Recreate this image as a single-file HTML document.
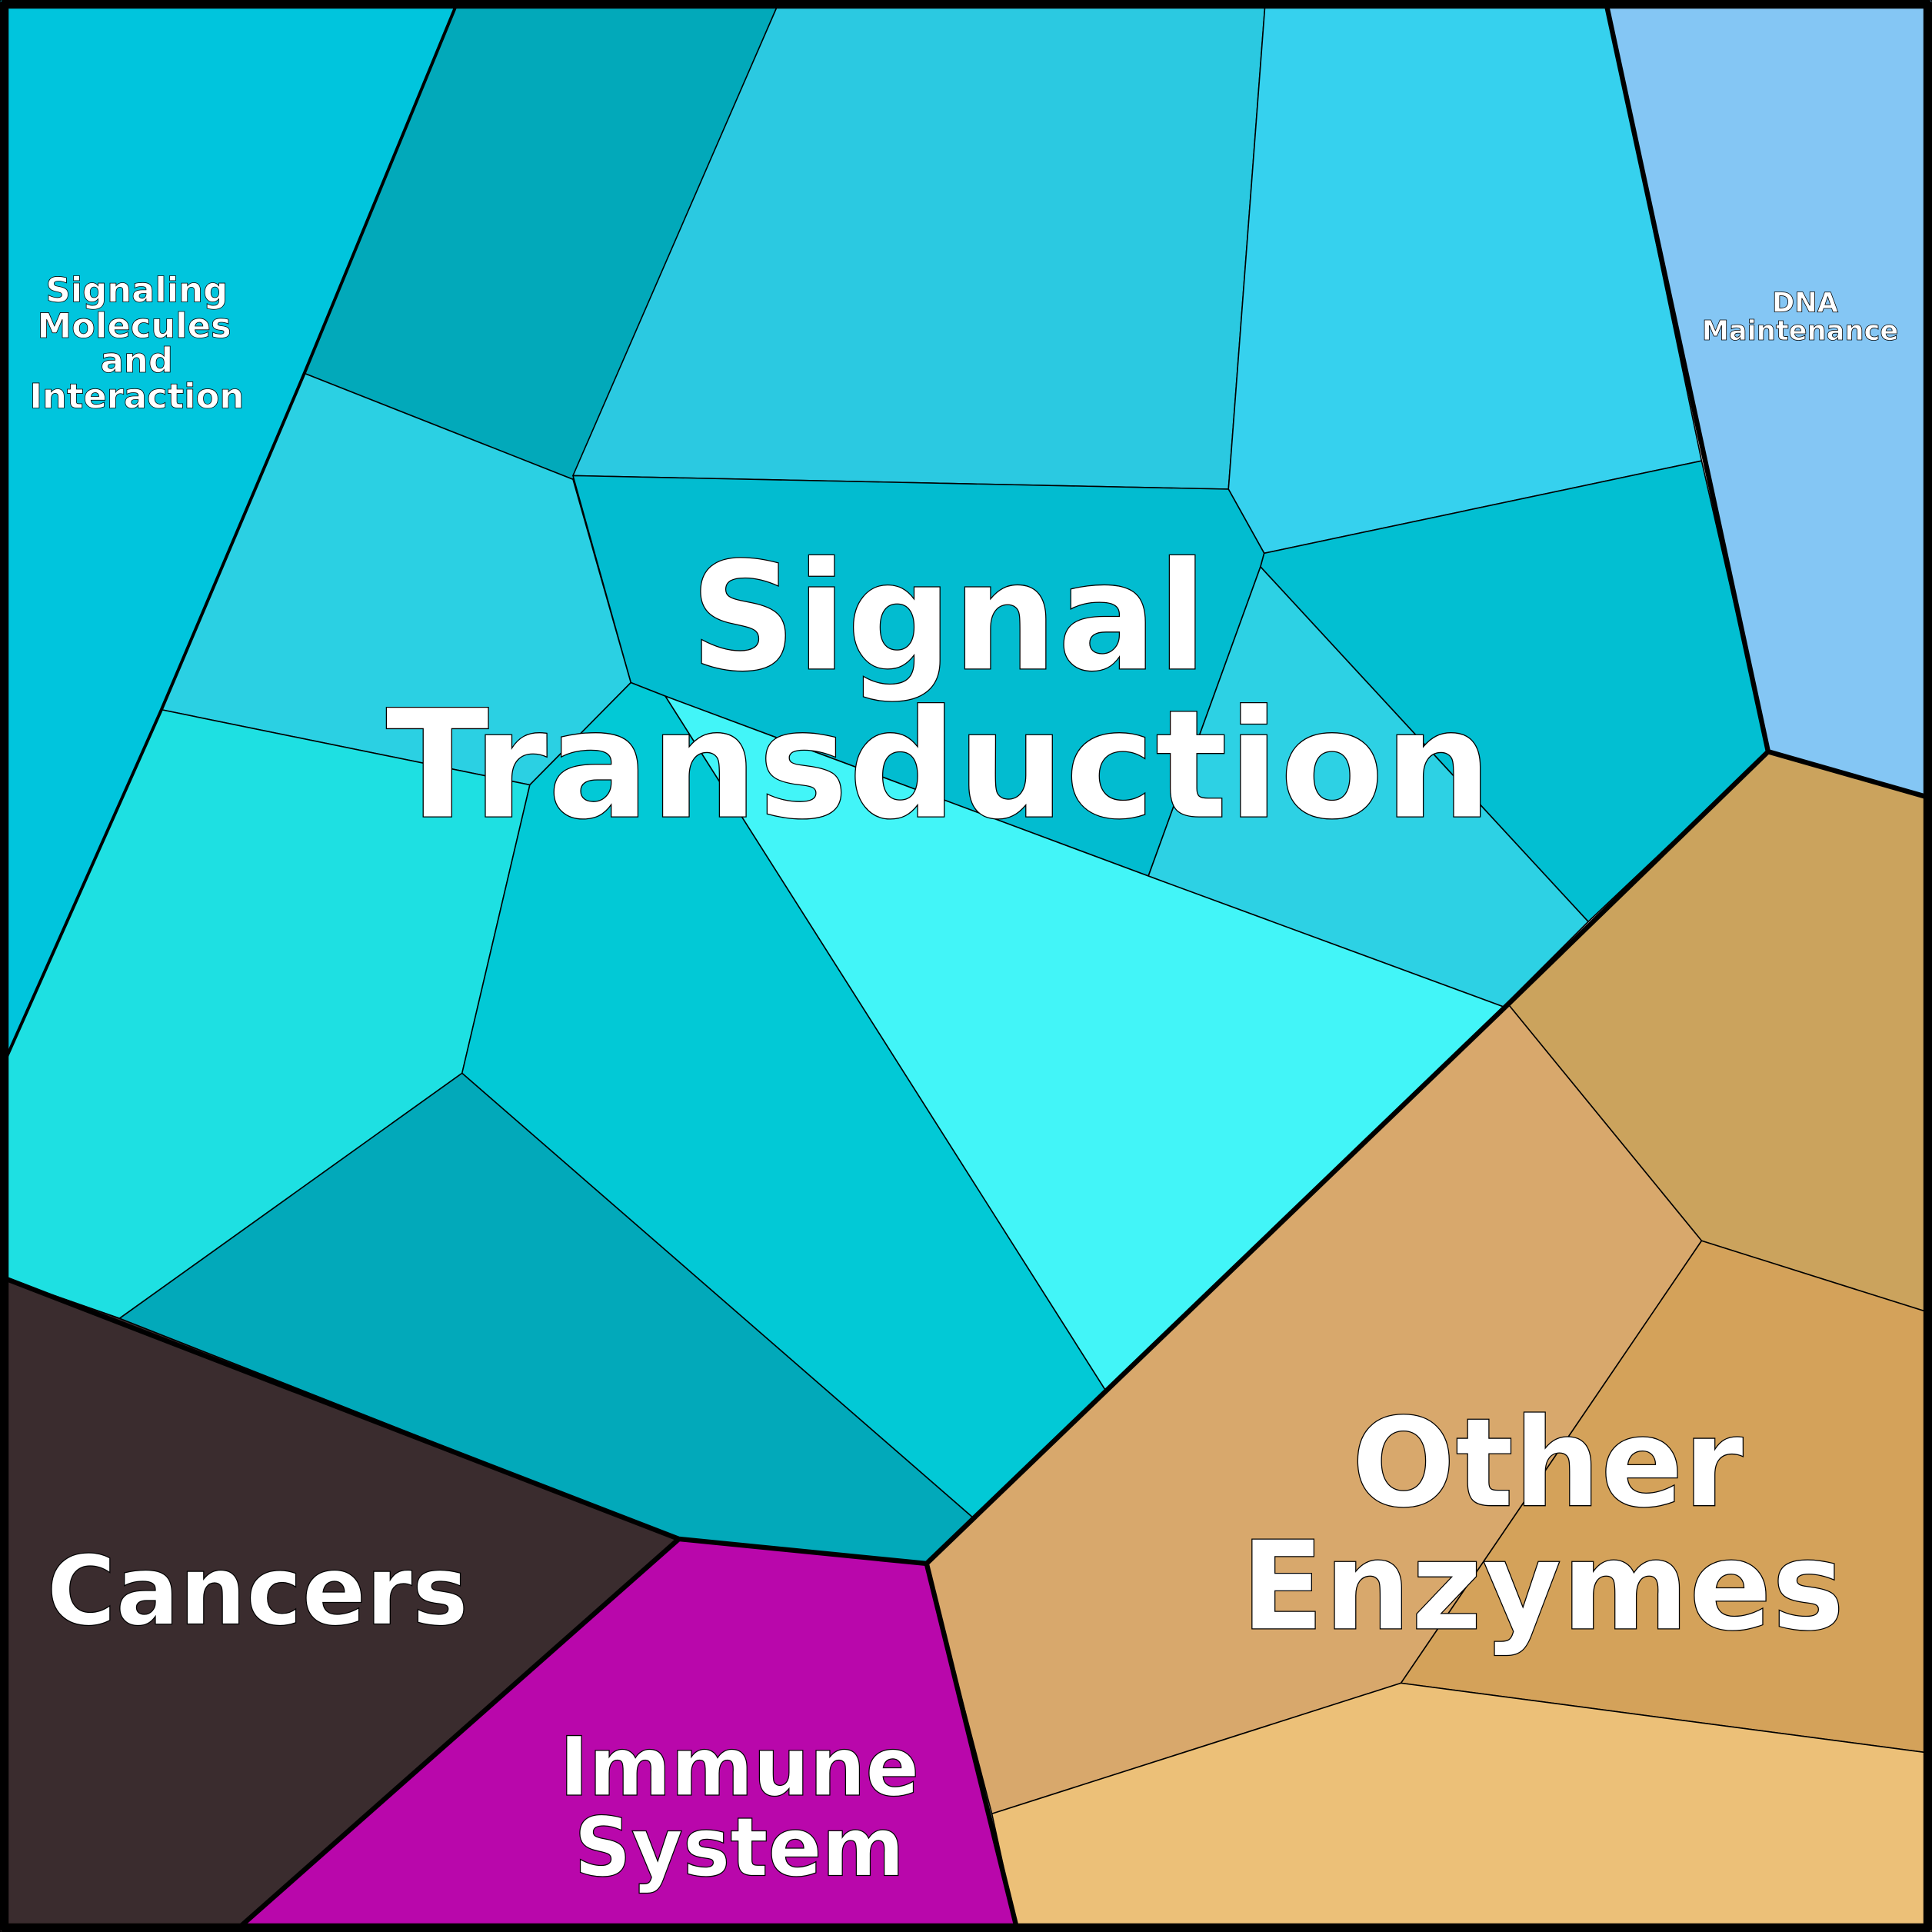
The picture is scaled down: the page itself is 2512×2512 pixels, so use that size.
<!DOCTYPE html>
<html><head><meta charset="utf-8"><style>
html,body{margin:0;padding:0;background:#fff}
svg{display:block}
text{font-family:"DejaVu Sans","Liberation Sans",sans-serif;font-weight:bold;fill:#fff;stroke:#000;text-anchor:middle;paint-order:normal}
</style></head><body>
<svg width="2512" height="2512" viewBox="0 0 1568 1568" xmlns="http://www.w3.org/2000/svg">
<g stroke="#000" stroke-width="1" stroke-linejoin="round">
<polygon fill="#00c5dd" points="0,0 372,0 247,303 131,576 0,870"/>
<polygon fill="#02a9ba" points="372,0 633,0 465,389 247,303"/>
<polygon fill="#2bc9e1" points="633,0 1027,0 997,397 465,386"/>
<polygon fill="#36d1ee" points="1027,0 1303,0 1381,374 1026,449 997,397"/>
<polygon fill="#84c6f4" points="1303,0 1568,0 1568,648 1435,610"/>
<polygon fill="#02bcd0" points="465,386 997,397 1026,449 1023,460 932,711 540,565 512,554"/>
<polygon fill="#02bfd2" points="1026,449 1381,374 1435,610 1289,748 1023,460"/>
<polygon fill="#2dd1e4" points="1023,460 1289,748 1220,817 932,711"/>
<polygon fill="#2bd0e3" points="247,303 465,389 512,554 430,637 131,576"/>
<polygon fill="#1ee0e2" points="131,576 430,637 375,871 97,1070 0,1036 0,870"/>
<polygon fill="#02c9d6" points="512,554 540,565 897,1128 790,1232 375,871 430,637"/>
<polygon fill="#42f5f8" points="540,565 932,711 1220,817 897,1128"/>
<polygon fill="#02a9ba" points="375,871 790,1232 752,1269 551,1249 97,1070"/>
<polygon fill="#3a2c2e" points="0,1036 97,1070 551,1249 190,1568 0,1568"/>
<polygon fill="#b907ab" points="551,1249 752,1269 826,1568 190,1568"/>
<polygon fill="#cba35d" points="1435,610 1568,648 1568,1066 1381,1007 1224,815"/>
<polygon fill="#d8a86c" points="1224,815 1381,1007 1137,1366 805,1472 752,1269"/>
<polygon fill="#d4a25a" points="1381,1007 1568,1066 1568,1423 1137,1366"/>
<polygon fill="#ecc078" points="805,1472 1137,1366 1568,1423 1568,1568 826,1568"/>
</g>
<g stroke="#000" stroke-width="4" fill="none" stroke-linejoin="round">
<polyline points="0,1036 551,1249 752,1269 1224,815 1435,610 1568,648"/>
<line x1="1303" y1="0" x2="1435" y2="610"/>
<line x1="551" y1="1249" x2="190" y2="1568"/>
<line x1="752" y1="1269" x2="826" y2="1568"/>
<polyline points="372,0 247,303 131,576 0,870" stroke-width="2.5"/>
<rect x="3.5" y="3.5" width="1561" height="1561" stroke-width="7"/>
</g>
<g stroke-width="0.8">
<text x="770" y="543" font-size="122" textLength="420" lengthAdjust="spacingAndGlyphs">Signal</text>
<text x="762" y="663" font-size="122" textLength="898" lengthAdjust="spacingAndGlyphs">Transduction</text>
<text x="1256" y="1222" font-size="100" textLength="318" lengthAdjust="spacingAndGlyphs">Other</text>
<text x="1252" y="1322" font-size="100" textLength="490" lengthAdjust="spacingAndGlyphs">Enzymes</text>
<text x="209" y="1318" font-size="78" textLength="342" lengthAdjust="spacingAndGlyphs">Cancers</text>
<text x="600" y="1457" font-size="66" textLength="292" lengthAdjust="spacingAndGlyphs">Immune</text>
<text x="600" y="1522" font-size="66" textLength="268" lengthAdjust="spacingAndGlyphs">System</text>
</g>
<g stroke-width="0.5">
<text x="111" y="245" font-size="28">Signaling</text>
<text x="109" y="274" font-size="28">Molecules</text>
<text x="111" y="302" font-size="28">and</text>
<text x="111" y="331" font-size="28">Interaction</text>
<text x="1465" y="253" font-size="22">DNA</text>
<text x="1461" y="276" font-size="22">Maintenance</text>
</g>
</svg>
</body></html>
